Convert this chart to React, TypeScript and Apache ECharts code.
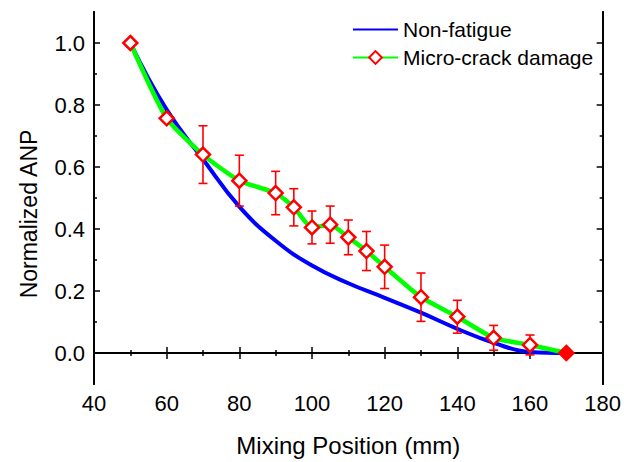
import React, { useEffect, useRef } from "react";
import * as echarts from "echarts";

const crackX = [50, 60, 70, 80, 90, 95, 100, 105, 110, 115, 120, 130, 140, 150, 160, 170];
const crackValues = [1.0, 0.757, 0.64, 0.556, 0.516, 0.47, 0.405, 0.414, 0.373, 0.329, 0.278, 0.18, 0.117, 0.049, 0.026, 0.0];
const crackErrors = [0, 0, 0.093, 0.082, 0.07, 0.06, 0.053, 0.06, 0.056, 0.063, 0.07, 0.078, 0.053, 0.04, 0.032, 0];

const nonFatigueX = [50, 60, 70, 80, 90, 100, 110, 120, 130, 140, 150, 160, 170];
const nonFatigueValues = [1.0, 0.785, 0.625, 0.472, 0.362, 0.282, 0.225, 0.178, 0.13, 0.078, 0.033, 0.003, 0.0];

const yMajorTicks = [0.0, 0.2, 0.4, 0.6, 0.8, 1.0];
const yMinorTicks = [0.1, 0.3, 0.5, 0.7, 0.9];

const FONT = "Liberation Sans";

export default function App() {
  const ref = useRef<HTMLDivElement>(null);
  useEffect(() => {
    if (!ref.current) return;
    const chart = echarts.init(ref.current, null, { renderer: "svg" });
    const axisLine = { show: true, lineStyle: { color: "#000", width: 2 } };
    const baseX = {
      type: "value",
      min: 40,
      max: 180,
      interval: 20,
      axisLine,
      splitLine: { show: false },
      axisTick: { inside: true, length: 6, lineStyle: { color: "#000", width: 1.5 } },
      minorTick: { show: true, splitNumber: 2, length: 3, lineStyle: { color: "#000", width: 1.5 } },
    };
    const baseY = {
      type: "value",
      min: -0.1,
      max: 1.1,
      axisLine,
      splitLine: { show: false },
    };
    const lastIdx = crackX.length - 1;
    const option: any = {
      animation: false,
      backgroundColor: "#fff",
      grid: { left: 94, right: 21, top: 12, bottom: 72 },
      graphic: [
        {
          type: "text",
          x: 29,
          y: 214,
          rotation: Math.PI / 2,
          style: {
            text: "Normalized ANP",
            fontFamily: FONT,
            fontSize: 23,
            fill: "#000",
            align: "center",
            verticalAlign: "middle",
          },
        },
      ],
      legend: {
        orient: "vertical",
        left: 352,
        top: 19,
        padding: 0,
        itemWidth: 45,
        itemHeight: 16,
        itemGap: 7,
        data: [
          { name: "Non-fatigue", itemStyle: { opacity: 0 } },
          { name: "Micro-crack damage" },
        ],
        textStyle: { fontFamily: FONT, fontSize: 21, color: "#000" },
      },
      xAxis: [
        {
          ...baseX,
          position: "bottom",
          name: "Mixing Position (mm)",
          nameLocation: "middle",
          nameGap: 49,
          nameTextStyle: { fontFamily: FONT, fontSize: 24, color: "#000" },
          axisLabel: { fontFamily: FONT, fontSize: 22, color: "#000", margin: 8 },
        },
        {
          ...baseX,
          position: "top",
          axisLabel: { show: false },
        },
      ],
      yAxis: [
        {
          ...baseY,
          position: "left",
          axisTick: {
            inside: true,
            length: 6,
            customValues: yMajorTicks,
            lineStyle: { color: "#000", width: 1.5 },
          },
          axisLabel: {
            fontFamily: FONT,
            fontSize: 22,
            color: "#000",
            margin: 9,
            customValues: yMajorTicks,
            formatter: (v: number) => v.toFixed(1),
          },
        },
        {
          ...baseY,
          position: "left",
          axisTick: {
            inside: true,
            length: 3,
            customValues: yMinorTicks,
            lineStyle: { color: "#000", width: 1.5 },
          },
          axisLabel: { show: false },
        },
        {
          ...baseY,
          position: "right",
          axisTick: {
            inside: true,
            length: 6,
            customValues: yMajorTicks,
            lineStyle: { color: "#000", width: 1.5 },
          },
          axisLabel: { show: false },
        },
        {
          ...baseY,
          position: "right",
          axisTick: {
            inside: true,
            length: 3,
            customValues: yMinorTicks,
            lineStyle: { color: "#000", width: 1.5 },
          },
          axisLabel: { show: false },
        },
      ],
      series: [
        {
          name: "Non-fatigue",
          type: "line",
          xAxisIndex: 0,
          yAxisIndex: 0,
          smooth: 0.45,
          symbol: "none",
          lineStyle: { color: "#0000ff", width: 4 },
          itemStyle: { color: "#0000ff" },
          data: nonFatigueX.map((x, i) => [x, nonFatigueValues[i]]),
          z: 2,
        },
        {
          name: "errors",
          type: "custom",
          xAxisIndex: 0,
          yAxisIndex: 0,
          z: 3,
          data: crackX
            .map((x, i) => [x, crackValues[i] - crackErrors[i], crackValues[i] + crackErrors[i], crackErrors[i]])
            .filter((d) => d[3] > 0),
          renderItem: (params: any, api: any) => {
            const x = api.value(0);
            const lo = api.value(1);
            const hi = api.value(2);
            const top = api.coord([x, hi]);
            const bot = api.coord([x, lo]);
            const w = 4.5;
            const style = { stroke: "#ff0000", lineWidth: 1.6 };
            return {
              type: "group",
              children: [
                { type: "line", shape: { x1: top[0], y1: top[1], x2: bot[0], y2: bot[1] }, style },
                { type: "line", shape: { x1: top[0] - w, y1: top[1], x2: top[0] + w, y2: top[1] }, style },
                { type: "line", shape: { x1: bot[0] - w, y1: bot[1], x2: bot[0] + w, y2: bot[1] }, style },
              ],
            };
          },
        },
        {
          name: "Micro-crack damage",
          type: "line",
          xAxisIndex: 0,
          yAxisIndex: 0,
          smooth: 0.2,
          symbol: "diamond",
          symbolSize: 14,
          lineStyle: { color: "#00ff00", width: 4.5 },
          itemStyle: { color: "#ffffff", borderColor: "#ff0000", borderWidth: 2.5 },
          data: crackX.map((x, i) =>
            i === lastIdx
              ? { value: [x, crackValues[i]], itemStyle: { color: "#ff0000" } }
              : [x, crackValues[i]]
          ),
          z: 4,
        },
      ],
    };
    chart.setOption(option);
    return () => chart.dispose();
  }, []);
  return (
    <div
      ref={ref}
      style={{ position: "absolute", left: 0, top: 0, width: 624, height: 462 }}
    />
  );
}
